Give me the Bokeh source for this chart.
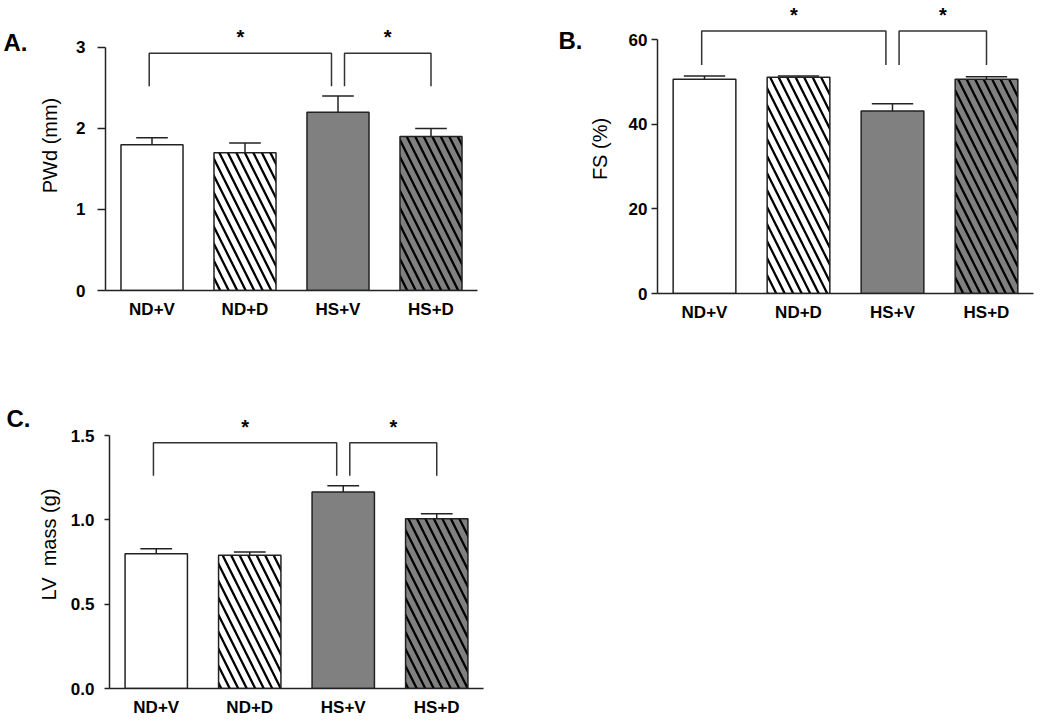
from bokeh.plotting import figure
from bokeh.models import Range1d, FixedTicker, Label, NumeralTickFormatter, Spacer
from bokeh.core.properties import value
from bokeh.layouts import column, row
from bokeh.embed import file_html
from bokeh.resources import INLINE

# ---------------- data ----------------
groups = ["ND+V", "ND+D", "HS+V", "HS+D"]

pwd_mean = [1.80, 1.70, 2.20, 1.90]
pwd_err = [0.085, 0.12, 0.20, 0.10]

fs_mean = [50.7, 51.2, 43.2, 50.7]
fs_err = [0.8, 0.25, 1.7, 0.6]

lv_mean = [0.80, 0.79, 1.166, 1.008]
lv_err = [0.03, 0.02, 0.037, 0.029]

sig_pairs = [(0, 2), (2, 3)]
pwd_bracket = (2.93, 2.52)
fs_bracket = (62.1, 54.1)
lv_bracket = (1.459, 1.262)

panel_letters = ["A.", "B.", "C."]

# ---------------- style ----------------
FONT = "Liberation Sans"
fills = ["white", "white", "#808080", "#808080"]
hatches = [" ", "\\", " ", "\\"]
LINE = "#222222"


def letter_fig(text, width, height, bt, bb, fig_top, lx, ly):
    """Small blank figure holding a panel letter; y range runs in page pixels."""
    f_top = fig_top + bt
    f_bot = fig_top + height - bb
    p = figure(width=width, height=height, output_backend="svg",
               toolbar_location=None, x_range=Range1d(0, width),
               y_range=Range1d(f_bot, f_top), min_border_left=0,
               min_border_right=0, min_border_top=bt, min_border_bottom=bb)
    p.axis.visible = False
    p.grid.visible = False
    p.outline_line_color = None
    p.text(x=[lx], y=[ly], text=[text], text_align="left",
           text_baseline="middle", text_font=value(FONT), text_font_size="24px",
           text_font_style="bold", text_color="black")
    return p


def panel(means, errs, bracket, ylabel, yticks, ybound, yend,
          width, height, bl, br, bt, bb, tick_out, tick_standoff, lab_standoff,
          fmt=None, cap=0.17):
    p = figure(width=width, height=height, output_backend="svg",
               toolbar_location=None, x_range=Range1d(-0.5, 3.5),
               y_range=Range1d(0, yend), min_border_left=bl, min_border_right=br,
               min_border_top=bt, min_border_bottom=bb)
    p.outline_line_color = None
    p.xgrid.grid_line_color = None
    p.ygrid.grid_line_color = None
    p.background_fill_color = "white"
    p.border_fill_color = "white"

    xs = list(range(len(groups)))
    p.vbar(x=xs, top=means, width=0.667, bottom=0, fill_color=fills,
           line_color=LINE, line_width=1.5, hatch_pattern=hatches,
           hatch_color="black", hatch_weight=2.3, hatch_scale=17)

    tops = [m + e for m, e in zip(means, errs)]
    p.segment(x0=xs, y0=means, x1=xs, y1=tops, line_color=LINE, line_width=1.5)
    p.segment(x0=[x - cap for x in xs], y0=tops, x1=[x + cap for x in xs], y1=tops,
              line_color=LINE, line_width=1.5)

    # significance brackets
    top, leg = bracket
    offs = [(-0.03, -0.07), (0.07, 0.0)]
    bxs, bys = [], []
    for (i, j), (oi, oj) in zip(sig_pairs, offs):
        xa, xb = i + oi, j + oj
        bxs.append([xa, xa, xb, xb])
        bys.append([leg, top, top, leg])
        p.add_layout(Label(x=(xa + xb) / 2, y=top, y_offset=16, text="*",
                           text_align="center", text_baseline="middle",
                           text_font=FONT, text_font_size="20px",
                           text_font_style="bold", text_color="black"))
    p.multi_line(xs=bxs, ys=bys, line_color="#333333", line_width=1.5)

    # x axis
    xa = p.xaxis[0]
    xa.ticker = FixedTicker(ticks=xs)
    xa.major_label_overrides = {i: g for i, g in enumerate(groups)}
    xa.major_tick_out = 0
    xa.major_tick_in = 0
    xa.minor_tick_out = 0
    xa.minor_tick_in = 0
    xa.axis_line_width = 1.5
    xa.axis_line_color = LINE
    xa.major_label_standoff = 9
    xa.major_label_text_font = FONT
    xa.major_label_text_font_size = "17px"
    xa.major_label_text_font_style = "bold"
    xa.major_label_text_color = "black"

    ya = p.yaxis[0]
    ya.ticker = FixedTicker(ticks=yticks)
    ya.bounds = ybound
    ya.major_tick_out = tick_out
    ya.major_tick_in = 0
    ya.minor_tick_out = 0
    ya.minor_tick_in = 0
    ya.axis_line_width = 1.5
    ya.axis_line_color = LINE
    ya.major_tick_line_width = 1.5
    ya.major_tick_line_color = LINE
    ya.major_label_standoff = tick_standoff
    ya.major_label_text_font = FONT
    ya.major_label_text_font_size = "17px"
    ya.major_label_text_font_style = "bold"
    ya.major_label_text_color = "black"
    if fmt:
        ya.formatter = NumeralTickFormatter(format=fmt)
    ya.axis_label = ylabel
    ya.axis_label_standoff = lab_standoff
    ya.axis_label_text_font = FONT
    ya.axis_label_text_font_size = "20px"
    ya.axis_label_text_font_style = "normal"
    ya.axis_label_text_color = "black"
    return p


# row 1, panel A
ROW1_H = 324
lA = letter_fig(panel_letters[0], 36, ROW1_H, 0, 34, 0, 3, 42)
pA = panel(pwd_mean, pwd_err, pwd_bracket, "PWd (mm)", [0, 1, 2, 3], (0, 3),
           3.58, 520, ROW1_H, 69, 79, 0, 34, 8, 12, 12)

# row 1, panel B (shifted down a few pixels)
B_SHIFT = 4
B_H = ROW1_H - B_SHIFT
lB = letter_fig(panel_letters[1], 28, B_H, 0, 30, B_SHIFT, 2, 40)
pB = panel(fs_mean, fs_err, fs_bracket, "FS (%)", [0, 20, 40, 60], (0, 60),
           68.4, 461, B_H, 73, 12, 0, 30, 6, 4, 15, cap=0.22)
blockB = column(Spacer(width=489, height=B_SHIFT), row(lB, pB))

# row 2, panel C
ROW2_H = 395
lC = letter_fig(panel_letters[2], 34, ROW2_H, 76, 30, ROW1_H, 6, 418)
pC = panel(lv_mean, lv_err, lv_bracket, "LV\u00a0 mass (g)", [0, 0.5, 1.0, 1.5], (0, 1.5),
           1.709, 469, ROW2_H, 69, 20, 76, 30, 5, 10, 8, fmt="0.0")

layout = column(row(lA, pA, blockB), row(lC, pC))
open("out.html", "w").write(file_html(layout, INLINE))
